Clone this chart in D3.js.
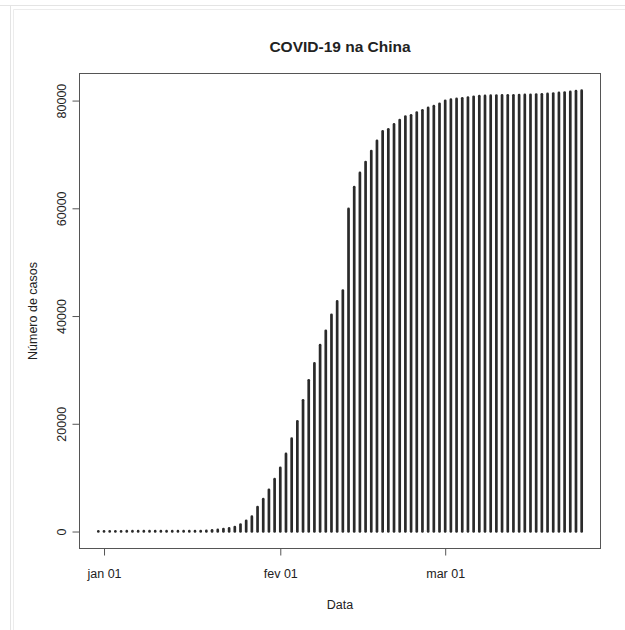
<!DOCTYPE html>
<html>
<head>
<meta charset="utf-8">
<script src="https://cdn.jsdelivr.net/npm/d3@7"></script>
<style>
  html, body { margin: 0; padding: 0; background: #fff; }
  svg { display: block; }
  text { font-family: "Liberation Sans", Arial, Helvetica, sans-serif; fill: #222; }
</style>
</head>
<body>
<svg id="chart" width="625" height="630"></svg>
<script>
// Cumulative confirmed COVID-19 cases in China, one value per day from 2019-12-31
const startDate = "2019-12-31";
const casos = [
  27, 27, 27, 44, 44, 59, 59, 59, 59, 59, 59, 59, 59, 59, 59, 59,   // 31 dez – 15 jan
  60, 64, 81, 140, 218, 297, 445, 575, 835, 1297, 1985, 2761,        // 16 jan – 27 jan
  4537, 5997, 7736, 9720,                                            // 28 jan – 31 jan
  11821, 14411, 17238, 20471, 24363, 28060, 31211, 34598, 37251,     // 01 fev – 09 fev
  40235, 42708, 44730, 59882, 63932, 66576, 68584, 70635, 72528,     // 10 fev – 18 fev
  74279, 74675, 75569, 76392, 77041, 77262, 77780, 78191, 78630,     // 19 fev – 27 fev
  78959, 79394,                                                      // 28 fev – 29 fev
  79968, 80174, 80303, 80424, 80565, 80711, 80813, 80859, 80904,     // 01 mar – 09 mar
  80924, 80955, 80981, 80991, 81021, 81048, 81077, 81116, 81151,     // 10 mar – 18 mar
  81235, 81300, 81416, 81498, 81601, 81747, 81846                    // 19 mar – 25 mar
];

const xTickDates = ["2020-01-01", "2020-02-01", "2020-03-01"];
const xTickLabels = ["jan 01", "fev 01", "mar 01"];
const yTicks = [0, 20000, 40000, 60000, 80000];

const titulo = "COVID-19 na China";
const xTitulo = "Data";
const yTitulo = "Número de casos";

// ---- layout ----
const svg = d3.select("#chart");
const W = 625, H = 630;
const box = { left: 79, right: 601, top: 73, bottom: 549 };

// light panel frame around the device
svg.append("line").attr("x1", 0).attr("x2", W).attr("y1", 5.5).attr("y2", 5.5)
  .attr("stroke", "#e4e4e4").attr("stroke-width", 1);
svg.append("line").attr("x1", 10.5).attr("x2", 10.5).attr("y1", 6).attr("y2", H)
  .attr("stroke", "#e4e4e4").attr("stroke-width", 1);
svg.append("line").attr("x1", 13.5).attr("x2", W).attr("y1", 9.5).attr("y2", 9.5)
  .attr("stroke", "#ececec").attr("stroke-width", 1);
svg.append("line").attr("x1", 13.5).attr("x2", 13.5).attr("y1", 9.5).attr("y2", H)
  .attr("stroke", "#ececec").attr("stroke-width", 1);

const parse = d3.utcParse("%Y-%m-%d");
const t0 = parse(startDate);
const data = casos.map((v, i) => ({ date: d3.utcDay.offset(t0, i), value: v }));

// base-graphics style 4% padding on each axis
const xExt = d3.extent(data, d => +d.date);
const xPad = (xExt[1] - xExt[0]) * 0.04;
const x = d3.scaleUtc()
  .domain([new Date(xExt[0] - xPad), new Date(xExt[1] + xPad)])
  .range([box.left, box.right]);

const yExt = d3.extent(data, d => d.value);
const yPad = (yExt[1] - yExt[0]) * 0.04;
const y = d3.scaleLinear()
  .domain([yExt[0] - yPad, yExt[1] + yPad])
  .range([box.bottom, box.top]);

// ---- vertical "h" lines ----
svg.append("g")
  .selectAll("line")
  .data(data)
  .join("line")
  .attr("x1", d => x(d.date))
  .attr("x2", d => x(d.date))
  .attr("y1", y(0))
  .attr("y2", d => y(d.value))
  .attr("stroke", "#2a2a2a")
  .attr("stroke-width", 2.7)
  .attr("stroke-linecap", "round");

// ---- plot box ----
svg.append("rect")
  .attr("x", box.left + 0.5).attr("y", box.top + 0.5)
  .attr("width", box.right - box.left - 1).attr("height", box.bottom - box.top - 1)
  .attr("fill", "none").attr("stroke", "#555").attr("stroke-width", 1);

// ---- axes ----
const xAxis = d3.axisBottom(x)
  .tickValues(xTickDates.map(parse))
  .tickFormat((d, i) => xTickLabels[i])
  .tickSizeInner(7).tickSizeOuter(0).tickPadding(14);
const gx = svg.append("g")
  .attr("transform", `translate(0,${box.bottom - 0.5})`)
  .call(xAxis);
gx.select(".domain").remove();
gx.selectAll(".tick line").attr("stroke", "#555");
gx.selectAll(".tick text")
  .style("font-family", '"Liberation Sans", Arial, sans-serif')
  .style("font-size", "12.5px").attr("fill", "#2a2a2a");

const yAxis = d3.axisLeft(y)
  .tickValues(yTicks)
  .tickFormat(d3.format("d"))
  .tickSizeInner(7).tickSizeOuter(0).tickPadding(0);
const gy = svg.append("g")
  .attr("transform", `translate(${box.left + 0.5},0)`)
  .call(yAxis);
gy.select(".domain").remove();
gy.selectAll(".tick line").attr("stroke", "#555");
gy.selectAll(".tick text")
  .attr("x", 0).attr("dy", 0)
  .attr("transform", "translate(-14,0) rotate(-90)")
  .attr("text-anchor", "middle")
  .style("font-family", '"Liberation Sans", Arial, sans-serif')
  .style("font-size", "12.5px").attr("fill", "#2a2a2a");

// ---- titles ----
svg.append("text")
  .attr("x", (box.left + box.right) / 2).attr("y", 52)
  .attr("text-anchor", "middle")
  .style("font-size", "15.5px").style("font-weight", "bold")
  .text(titulo);

svg.append("text")
  .attr("x", (box.left + box.right) / 2).attr("y", 609)
  .attr("text-anchor", "middle")
  .style("font-size", "12.5px").attr("fill", "#2a2a2a")
  .text(xTitulo);

svg.append("text")
  .attr("transform", `translate(37,${(box.top + box.bottom) / 2}) rotate(-90)`)
  .attr("text-anchor", "middle")
  .style("font-size", "12.5px").attr("fill", "#2a2a2a")
  .text(yTitulo);
</script>
</body>
</html>
